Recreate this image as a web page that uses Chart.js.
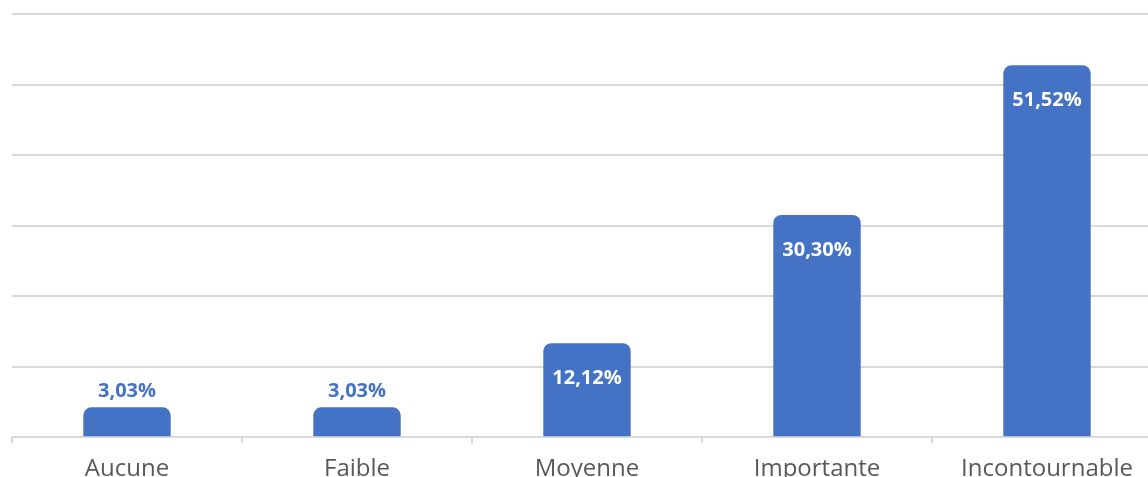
<!DOCTYPE html>
<html>
<head>
<meta charset="utf-8">
<script src="https://cdn.jsdelivr.net/npm/chart.js@4/dist/chart.umd.min.js"></script>
<style>
    html, body { margin: 0; padding: 0; background: #ffffff; overflow: hidden; }
    #wrap { position: absolute; left: 0; top: 0; width: 1162px; height: 496px; }
</style>
</head>
<body>
<div id="wrap"><canvas id="chart" width="1162" height="496"></canvas></div>
<script>
// ===========================
// Données du graphique
// ===========================
const categories = ['Aucune', 'Faible', 'Moyenne', 'Importante', 'Incontournable'];
const values = [3.03, 3.03, 12.12, 30.30, 51.52];
// lignes horizontales de la grille (en %)
const gridValues = [-1.2, 8.8, 18.8, 28.8, 38.8, 48.8, 58.8];

const BAR_COLOR = '#4472C4';
const GRID_COLOR = '#d9d9d9';

/**
 * Formate une valeur en pourcentage à la française
 */
function formatPercent(v) {
    return v.toFixed(2).replace('.', ',') + '%';
}

// Plugin maison pour les étiquettes de valeur
const valueLabels = {
    id: 'valueLabels',
    afterDatasetsDraw(chart) {
        const ctx = chart.ctx;
        const meta = chart.getDatasetMeta(0);
        ctx.save();
        ctx.font = 'bold 20px "Open Sans"';
        ctx.textAlign = 'center';
        ctx.textBaseline = 'middle';
        meta.data.forEach((bar, i) => {
            const v = values[i];
            if (v < 5) {
                ctx.fillStyle = BAR_COLOR;
                ctx.fillText(formatPercent(v), bar.x, bar.y - 16);
            } else {
                ctx.fillStyle = '#ffffff';
                ctx.fillText(formatPercent(v), bar.x, bar.y + 35);
            }
        });
        ctx.restore();
    }
};

new Chart(document.getElementById('chart'), {
    type: 'bar',
    data: {
        labels: categories,
        datasets: [{
            data: values,
            base: gridValues[0],
            backgroundColor: BAR_COLOR,
            borderRadius: { topLeft: 8, topRight: 8, bottomLeft: 0, bottomRight: 0 },
            borderSkipped: 'bottom',
            barPercentage: 0.76,
            categoryPercentage: 0.5
        }]
    },
    options: {
        responsive: false,
        animation: false,
        layout: { padding: { top: 14, left: 12, right: 0, bottom: 0 } },
        plugins: {
            legend: { display: false },
            tooltip: { enabled: false }
        },
        scales: {
            x: {
                grid: { drawOnChartArea: false, color: GRID_COLOR, tickLength: 6, lineWidth: 2 },
                border: { color: GRID_COLOR, width: 2 },
                ticks: {
                    color: '#595959',
                    padding: 12,
                    font: { family: '"Open Sans"', size: 24 }
                }
            },
            y: {
                min: gridValues[0],
                max: gridValues[gridValues.length - 1],
                afterBuildTicks: (scale) => {
                    scale.ticks = gridValues.map(v => ({ value: v }));
                },
                ticks: { display: false },
                grid: { color: GRID_COLOR, lineWidth: 2, drawTicks: false },
                border: { display: false }
            }
        }
    },
    plugins: [valueLabels]
});
</script>
</body>
</html>
